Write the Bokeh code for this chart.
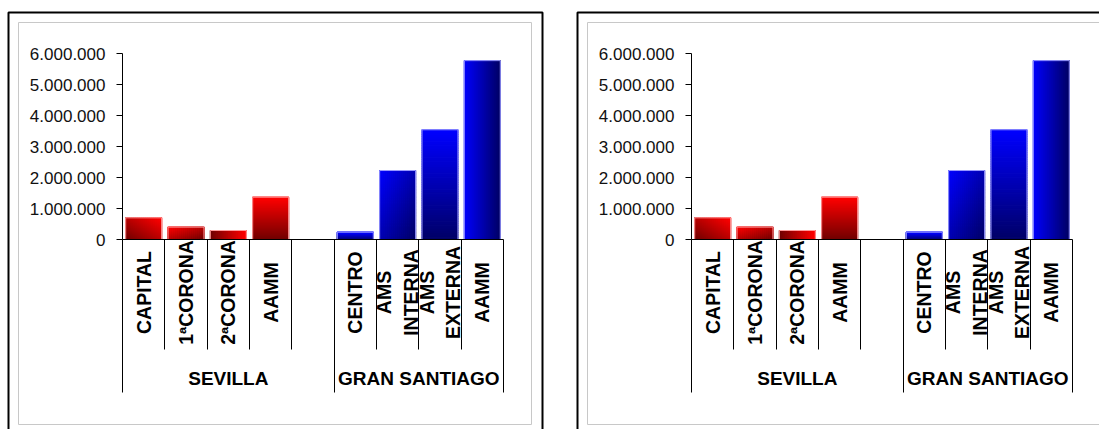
import math
from bokeh.plotting import figure
from bokeh.models import Range1d, LinearAxis, FixedTicker, BoxAnnotation, ColumnDataSource
from bokeh.core.properties import value
from bokeh.layouts import row
from bokeh.embed import file_html
from bokeh.resources import INLINE

# ---------------- data ----------------
groups = ["SEVILLA", "GRAN SANTIAGO"]
sevilla_categories = ["CAPITAL", "1ªCORONA", "2ªCORONA", "AAMM", ""]
sevilla_values = [700000, 400000, 290000, 1365000, None]
santiago_categories = ["CENTRO", "AMS\nINTERNA", "AMS\nEXTERNA", "AAMM"]
santiago_values = [235000, 2225000, 3540000, 5770000]
y_ticks = [0, 1000000, 2000000, 3000000, 4000000, 5000000, 6000000]

# gradient direction (dark -> bright) for each bar, in bar-relative coordinates
sevilla_gradients = [(1, 1), (-1, 1), (1, 0), (0, 1), None]
santiago_gradients = [(0, 1), (-1, 1), (0, 1), (-1, 0)]

# ---------------- style / layout ----------------
H = 429
AXIS_X_PX = 122.0      # pixel position of the value axis inside a panel
CAT_PX = 42.33         # pixels per category
ZERO_Y_PX = 239.0      # pixel row of value 0
LABEL_Y_PX = 292.0     # pixel row of the centre of the category labels
PX_PER_UNIT = 31.0 / 1e6
BAR_W = 0.85
FONT = "Liberation Sans"
RED = ((0x6E, 0x00, 0x00), (0xFF, 0x00, 0x00))
BLUE = ((0x00, 0x00, 0x66), (0x00, 0x00, 0xFF))
EDGE = {"red": "#ff9a9a", "blue": "#9a9aff"}

categories = sevilla_categories + santiago_categories
values = sevilla_values + santiago_values
gradients = sevilla_gradients + santiago_gradients
palette = ["red"] * len(sevilla_categories) + ["blue"] * len(santiago_categories)
group_sizes = [len(sevilla_categories), len(santiago_categories)]
n_cat = len(categories)


def mix(c0, c1, t):
    r, g, b = (round(a + (b_ - a) * t) for a, b_ in zip(c0, c1))
    return "#%02x%02x%02x" % (r, g, b)


# gradient cells for every bar
cells = dict(left=[], right=[], bottom=[], top=[], color=[])
bars = dict(left=[], right=[], bottom=[], top=[], edge=[])
for i, (v, grad, pal) in enumerate(zip(values, gradients, palette)):
    if v is None:
        continue
    x0 = i + 0.5 - BAR_W / 2
    dark, bright = RED if pal == "red" else BLUE
    dx, dy = grad
    nx = 1 if dx == 0 else 18
    ny = 1 if dy == 0 else 48
    norm = 0.5 * (abs(dx) + abs(dy))
    for a in range(nx):
        for b in range(ny):
            u = (a + 0.5) / nx
            w = (b + 0.5) / ny
            t = 0.5 + 0.5 * ((u - 0.5) * dx + (w - 0.5) * dy) / norm
            cells["left"].append(x0 + BAR_W * a / nx)
            cells["right"].append(x0 + BAR_W * (a + 1) / nx)
            cells["bottom"].append(v * b / ny)
            cells["top"].append(v * (b + 1) / ny)
            cells["color"].append(mix(dark, bright, t))
    bars["left"].append(x0)
    bars["right"].append(x0 + BAR_W)
    bars["bottom"].append(0)
    bars["top"].append(v)
    bars["edge"].append(EDGE[pal])

boundaries = list(range(n_cat + 1))
group_edges = [0]
for s in group_sizes:
    group_edges.append(group_edges[-1] + s)
inner_bounds = [b for b in boundaries if b not in group_edges]
group_centers = [(group_edges[k] + group_edges[k + 1]) / 2 for k in range(len(groups))]
cat_centers = [i + 0.5 for i in range(n_cat)]


def bare_axis(ax):
    ax.major_tick_in = 0
    ax.minor_tick_out = 0
    ax.minor_tick_in = 0
    return ax


def make_panel(width):
    p = figure(
        width=width, height=H,
        x_range=Range1d(-AXIS_X_PX / CAT_PX, (width - AXIS_X_PX) / CAT_PX),
        y_range=Range1d(-(H - ZERO_Y_PX) / PX_PER_UNIT, ZERO_Y_PX / PX_PER_UNIT),
        x_axis_type=None, y_axis_type=None,
        toolbar_location=None, output_backend="svg",
        min_border=0, outline_line_color=None,
        background_fill_color="white", border_fill_color="white",
    )
    p.quad(source=ColumnDataSource(cells), left="left", right="right", bottom="bottom",
           top="top", fill_color="color", line_color="color", line_width=1.2)
    p.quad(source=ColumnDataSource(bars), left="left", right="right", bottom="bottom",
           top="top", fill_color=None, line_color="edge", line_width=1)

    # value axis
    yax = bare_axis(LinearAxis(fixed_location=0, bounds=(0, max(y_ticks)),
                               ticker=FixedTicker(ticks=y_ticks),
                               major_label_overrides={t: f"{t:,}".replace(",", ".") for t in y_ticks}))
    yax.major_tick_out = 6
    yax.major_label_standoff = 11
    yax.major_label_text_font = FONT
    yax.major_label_text_font_size = "17px"
    yax.major_label_text_color = "#111111"
    yax.axis_line_color = "black"
    p.add_layout(yax, "left")

    # category boundary ticks (short)
    bax = bare_axis(LinearAxis(fixed_location=0, bounds=(0, n_cat), ticker=FixedTicker(ticks=inner_bounds)))
    bax.major_tick_out = 110
    bax.major_label_text_color = None
    bax.axis_line_color = "black"
    p.add_layout(bax, "below")

    # group boundary ticks (long)
    gax = bare_axis(LinearAxis(fixed_location=0, bounds=(0, n_cat), ticker=FixedTicker(ticks=group_edges)))
    gax.major_tick_out = 153
    gax.major_label_text_color = None
    gax.axis_line_color = None
    p.add_layout(gax, "below")

    # category labels (rotated, lines centred)
    p.text(x=cat_centers, y=[-(LABEL_Y_PX - ZERO_Y_PX) / PX_PER_UNIT] * n_cat, text=categories,
           angle=math.pi / 2, text_align="center", text_baseline="middle",
           text_font=value(FONT), text_font_size="19.5px", text_font_style="bold",
           text_color="black", text_line_height=1.2)

    # group labels
    lax = bare_axis(LinearAxis(fixed_location=0, ticker=FixedTicker(ticks=group_centers),
                               major_label_overrides={c: g for c, g in zip(group_centers, groups)}))
    lax.major_tick_out = 0
    lax.axis_line_color = None
    lax.major_label_standoff = 128
    lax.major_label_text_font = FONT
    lax.major_label_text_font_size = "19px"
    lax.major_label_text_font_style = "bold"
    lax.major_label_text_color = "black"
    p.add_layout(lax, "below")

    # panel borders
    p.add_layout(BoxAnnotation(left=8, right=542, top=12, bottom=H + 20,
                               left_units="canvas", right_units="canvas",
                               top_units="canvas", bottom_units="canvas",
                               fill_color=None, line_color="black", line_alpha=1.0, line_width=2))
    p.add_layout(BoxAnnotation(left=18, right=531, top=22, bottom=424,
                               left_units="canvas", right_units="canvas",
                               top_units="canvas", bottom_units="canvas",
                               fill_color=None, line_color="#c8c8c8", line_alpha=1.0, line_width=1))
    return p


p1 = make_panel(569)
p2 = make_panel(1099 - 569)
layout = row(p1, p2)
open("out.html", "w").write(file_html(layout, INLINE))
